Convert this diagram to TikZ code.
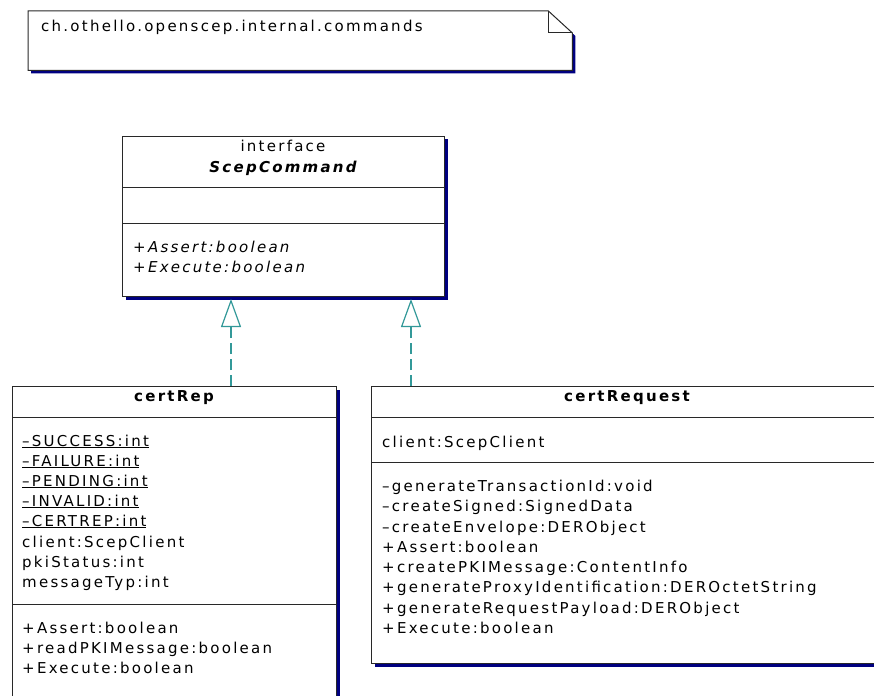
\documentclass[tikz,border=0pt]{standalone}
\usepackage{fontspec}
\setmainfont{DejaVu Sans}[LetterSpace=15]
\usetikzlibrary{arrows.meta,shadows}
\definecolor{navyshadow}{RGB}{0,0,128}
\definecolor{implteal}{RGB}{51,153,153}
\definecolor{boxline}{RGB}{40,40,40}
\tikzset{
  umlbox/.style={draw=boxline, line width=1pt, fill=white, anchor=north west, inner sep=0pt,
    general shadow={fill=navyshadow, shadow xshift=3pt, shadow yshift=-3pt}},
  txt/.style={anchor=base west, inner sep=0pt, font=\fontsize{15}{17}\selectfont},
  ctxt/.style={anchor=base, inner sep=0pt, font=\fontsize{15}{17}\selectfont},
  sepline/.style={draw=boxline, line width=1pt},
  impl/.style={draw=implteal, line width=1.2pt, dash pattern=on 11pt off 5pt,
    -{Triangle[open, width=20pt, length=28pt, fill=white]}}
}
\begin{document}
\begin{tikzpicture}[x=1pt,y=-1pt]
\path[use as bounding box] (0,0) rectangle (874,695);
\clip (0,0) rectangle (874,695);

% package note
\node[anchor=north west, minimum width=544pt, minimum height=59pt, inner sep=0pt] (note) at (28,11) {};
\begin{scope}[transform canvas={xshift=3pt, yshift=-3pt}]
\fill[navyshadow] (note.north west) -- ([xshift=-24pt]note.north east) -- ([yshift=-22pt]note.north east) -- (note.south east) -- (note.south west) -- cycle;
\end{scope}
\draw[draw=boxline, line width=1pt, fill=white] (note.north west) -- ([xshift=-24pt]note.north east) -- ([yshift=-22pt]note.north east) -- (note.south east) -- (note.south west) -- cycle;
\draw[draw=boxline, line width=1pt] ([xshift=-24pt]note.north east) |- ([yshift=-22pt]note.north east);
\node[txt] (notetext) at (41,32) {ch.othello.openscep.internal.commands};

% interface ScepCommand
\node[umlbox, minimum width=322pt, minimum height=160pt] (iface) at (122,136) {};
\draw[sepline] (iface.west |- 0,187) -- (iface.east |- 0,187);
\draw[sepline] (iface.west |- 0,223) -- (iface.east |- 0,223);
\node[ctxt] (ifstereo) at (283,152) {interface};
\node[ctxt, font=\fontsize{15}{17}\selectfont\bfseries\itshape] (ifname) at (283,172) {ScepCommand};
\node[txt, font=\fontsize{15}{17}\selectfont\itshape] (ifm1) at (133,252) {+Assert:boolean};
\node[txt, font=\fontsize{15}{17}\selectfont\itshape] (ifm2) at (133,272) {+Execute:boolean};

% certRep
\node[umlbox, minimum width=324pt, minimum height=340pt] (rep) at (12,386) {};
\draw[sepline] (rep.west |- 0,417) -- (rep.east |- 0,417);
\draw[sepline] (rep.west |- 0,604) -- (rep.east |- 0,604);
\node[ctxt, font=\fontsize{15}{17}\selectfont\bfseries] (repname) at (174,401) {certRep};
\node[txt] (ra1) at (22,446) {\underline{\textendash SUCCESS:int}};
\node[txt] (ra2) at (22,466) {\underline{\textendash FAILURE:int}};
\node[txt] (ra3) at (22,486) {\underline{\textendash PENDING:int}};
\node[txt] (ra4) at (22,506) {\underline{\textendash INVALID:int}};
\node[txt] (ra5) at (22,526) {\underline{\textendash CERTREP:int}};
\node[txt] (ra6) at (22,547) {client:ScepClient};
\node[txt] (ra7) at (22,567) {pkiStatus:int};
\node[txt] (ra8) at (22,587) {messageTyp:int};
\node[txt] (rm1) at (22,633) {+Assert:boolean};
\node[txt] (rm2) at (22,653) {+readPKIMessage:boolean};
\node[txt] (rm3) at (22,673) {+Execute:boolean};

% certRequest
\node[umlbox, minimum width=511pt, minimum height=277pt] (req) at (371,386) {};
\draw[sepline] (req.west |- 0,417) -- (req.east |- 0,417);
\draw[sepline] (req.west |- 0,462) -- (req.east |- 0,462);
\node[ctxt, font=\fontsize{15}{17}\selectfont\bfseries] (reqname) at (627,401) {certRequest};
\node[txt] (qa1) at (382,447) {client:ScepClient};
\node[txt] (qm1) at (382,491) {\textendash generateTransactionId:void};
\node[txt] (qm2) at (382,511) {\textendash createSigned:SignedData};
\node[txt] (qm3) at (382,532) {\textendash createEnvelope:DERObject};
\node[txt] (qm4) at (382,552) {+Assert:boolean};
\node[txt] (qm5) at (382,572) {+createPKIMessage:ContentInfo};
\node[txt] (qm6) at (382,592) {+generateProxyIdentification:DEROctetString};
\node[txt] (qm7) at (382,613) {+generateRequestPayload:DERObject};
\node[txt] (qm8) at (382,633) {+Execute:boolean};

% realizations
\coordinate (t1) at (231,299);
\coordinate (t2) at (411,299);
\draw[impl] (rep.north -| t1) -- (t1);
\draw[impl] (req.north -| t2) -- (t2);
\end{tikzpicture}
\end{document}
